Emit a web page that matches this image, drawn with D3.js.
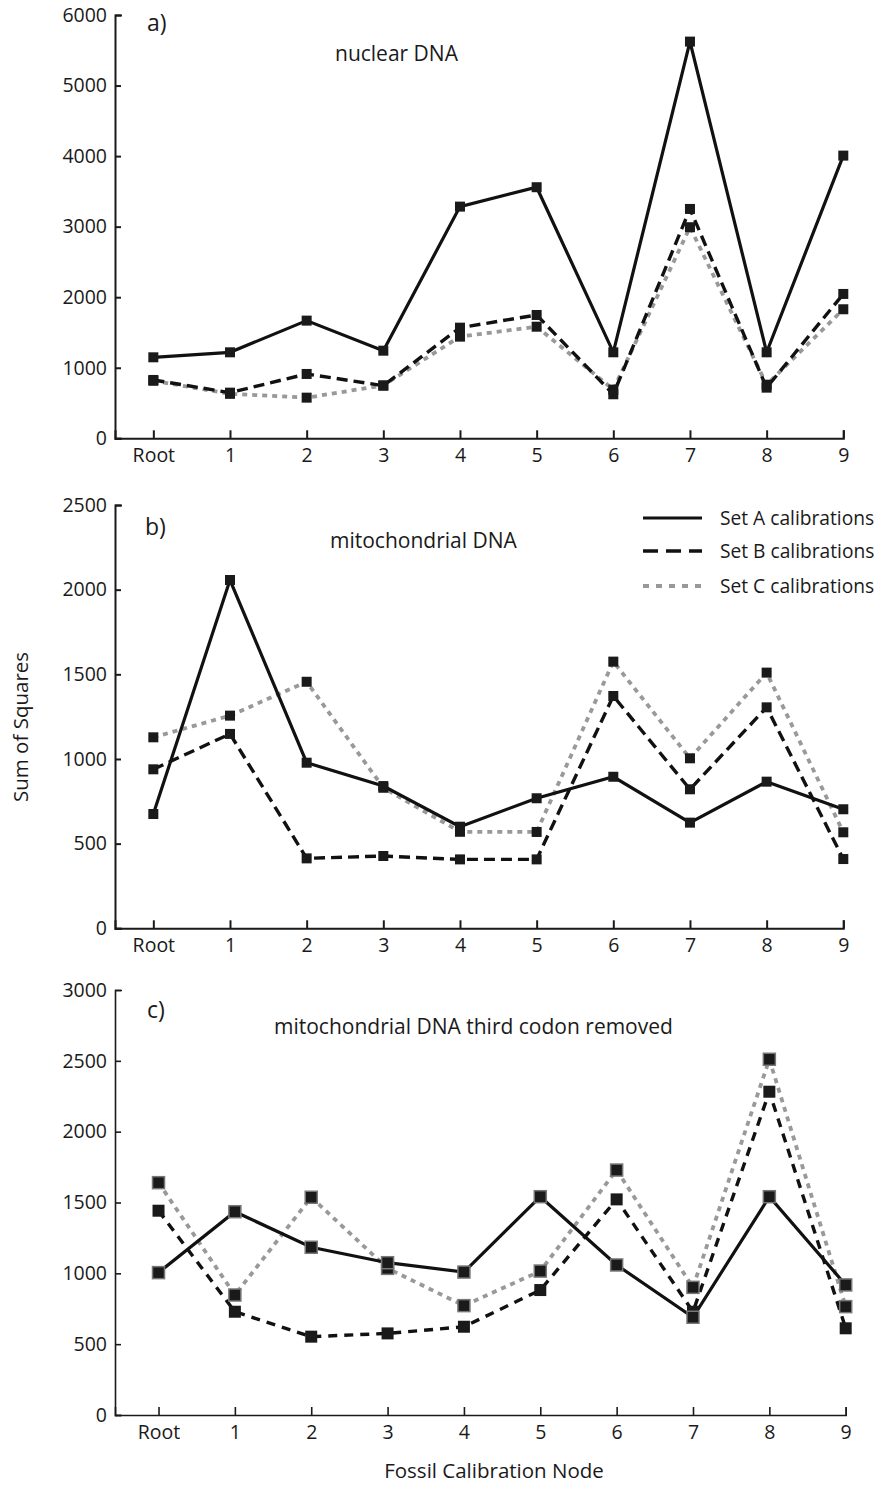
<!DOCTYPE html>
<html>
<head>
<meta charset="utf-8">
<script src="https://cdn.jsdelivr.net/npm/d3@7"></script>
<style>
  body { margin: 0; background: #fff; }
  svg text { font-family: "Open Sans", "DejaVu Sans", sans-serif; fill: #1a1a1a; }
</style>
</head>
<body>
<div id="chart"></div>
<script>
// categories
var nodes = ["Root", "1", "2", "3", "4", "5", "6", "7", "8", "9"];

// a) nuclear DNA
var nuclearA = [1148, 1219, 1668, 1242, 3284, 3559, 1219, 5623, 1219, 4007];
var nuclearB = [827, 647, 912, 746, 1568, 1748, 624, 3251, 718, 2046];
var nuclearC = [815, 630, 576, 750, 1441, 1582, 690, 2992, 760, 1829];

// b) mitochondrial DNA
var mitoA = [675, 2057, 978, 840, 600, 768, 895, 624, 866, 703];
var mitoB = [939, 1148, 413, 427, 407, 407, 1372, 821, 1305, 409];
var mitoC = [1128, 1256, 1456, 830, 570, 569, 1575, 1004, 1510, 567];

// c) mitochondrial DNA third codon removed
var codonA = [1005, 1435, 1184, 1075, 1009, 1541, 1059, 690, 1541, 918];
var codonB = [1442, 729, 553, 576, 623, 882, 1522, 729, 2282, 612];
var codonC = [1640, 847, 1537, 1035, 772, 1016, 1729, 901, 2511, 765];

var yTicksA = [0, 1000, 2000, 3000, 4000, 5000, 6000];
var yTicksB = [0, 500, 1000, 1500, 2000, 2500];
var yTicksC = [0, 500, 1000, 1500, 2000, 2500, 3000];

var seriesNames = ["Set A calibrations", "Set B calibrations", "Set C calibrations"];
var panelLetters = ["a)", "b)", "c)"];
var panelTitles = ["nuclear DNA", "mitochondrial DNA", "mitochondrial DNA third codon removed"];


var width = 875, height = 1498;

var svg = d3.select("#chart").append("svg")
            .attr("width", width)
            .attr("height", height);

// line styles for the three sets
var styles = [
    { color: "#111", width: 3.2, dash: null },
    { color: "#111", width: 3.4, dash: "11,6" },
    { color: "#999", width: 3.8, dash: "5,5" }
];

var panels = [
    { series: [nuclearA, nuclearB, nuclearC], ticks: yTicksA, max: 6000,
      top: 15, bottom: 438.3, xStart: -0.5, xRight: 843.3, marker: 10,
      letterX: 147, letterY: 31, titleX: 335, titleY: 61, axisW: 2 },
    { series: [mitoA, mitoB, mitoC], ticks: yTicksB, max: 2500,
      top: 505, bottom: 928.3, xStart: -0.5, xRight: 843.3, marker: 10,
      letterX: 145, letterY: 535, titleX: 330, titleY: 548, axisW: 2 },
    { series: [codonA, codonB, codonC], ticks: yTicksC, max: 3000,
      top: 990, bottom: 1415, xStart: -0.57, xRight: 845.7, marker: 12,
      letterX: 147, letterY: 1018, titleX: 274, titleY: 1034, axisW: 1.6,
      dashB: "9,7", edge: true }
];

var left = 115;

panels.forEach(function(p, pi) {

    var x = d3.scaleLinear()
              .domain([p.xStart, nodes.length - 1])
              .range([left, p.xRight]);

    var y = d3.scaleLinear()
              .domain([0, p.max])
              .range([p.bottom, p.top]);

    var g = svg.append("g").attr("class", "panel" + pi);

    /* axes */
    var xAxis = d3.axisBottom(x)
                  .tickValues(d3.range(nodes.length))
                  .tickFormat(function(d) { return nodes[d]; })
                  .tickSizeInner(-8)
                  .tickSizeOuter(-8)
                  .tickPadding(7);

    var yAxis = d3.axisLeft(y)
                  .tickValues(p.ticks)
                  .tickFormat(d3.format("d"))
                  .tickSizeInner(-6)
                  .tickSizeOuter(-7)
                  .tickPadding(8);

    var gx = g.append("g")
              .attr("transform", "translate(0," + p.bottom + ")")
              .call(xAxis);

    var gy = g.append("g")
              .attr("transform", "translate(" + left + ",0)")
              .call(yAxis);

    [gx, gy].forEach(function(a) {
        a.selectAll("path, line").attr("stroke", "#1a1a1a").attr("stroke-width", p.axisW);
        a.selectAll("text").attr("font-size", 19.5).attr("fill", "#1a1a1a")
         .style("font-family", "'Open Sans', sans-serif");
    });
    gx.selectAll("text").attr("dy", "0.85em");

    /* lines, set C at the back */
    var line = d3.line()
                 .x(function(d, i) { return x(i); })
                 .y(function(d) { return y(d); });

    [2, 1, 0].forEach(function(si) {
        var st = styles[si];
        var dash = (si === 1 && p.dashB) ? p.dashB : st.dash;
        g.append("path")
         .datum(p.series[si])
         .attr("fill", "none")
         .attr("stroke", st.color)
         .attr("stroke-width", st.width)
         .attr("stroke-dasharray", dash)
         .attr("stroke-linejoin", "miter")
         .attr("d", line);
    });

    /* square markers */
    [2, 1, 0].forEach(function(si) {
        var s = p.marker;
        g.append("g").selectAll("rect")
         .data(p.series[si])
         .enter()
         .append("rect")
         .attr("x", function(d, i) { return x(i) - s / 2; })
         .attr("y", function(d) { return y(d) - s / 2; })
         .attr("width", s)
         .attr("height", s)
         .attr("fill", "#1a1a1a")
         .attr("stroke", (p.edge && si !== 1) ? "#777" : "none")
         .attr("stroke-width", 1.5);
    });

    /* panel letter and title */
    g.append("text")
     .attr("x", p.letterX)
     .attr("y", p.letterY)
     .attr("font-size", 23)
     .text(panelLetters[pi]);

    g.append("text")
     .attr("x", p.titleX)
     .attr("y", p.titleY)
     .attr("font-size", 21)
     .text(panelTitles[pi]);
});


/* legend, inside panel b */
var legend = svg.append("g").attr("class", "legend");
var legendDash = [null, "15,8", "6,7"];
var legendY = [518, 551, 586];

seriesNames.forEach(function(name, i) {
    legend.append("line")
          .attr("x1", 643).attr("x2", 702)
          .attr("y1", legendY[i]).attr("y2", legendY[i])
          .attr("stroke", styles[i].color)
          .attr("stroke-width", styles[i].width)
          .attr("stroke-dasharray", legendDash[i]);

    legend.append("text")
          .attr("x", 720)
          .attr("y", legendY[i] + 7)
          .attr("font-size", 19.2)
          .text(name);
});


/* shared axis titles */
svg.append("text")
   .attr("transform", "translate(28,727) rotate(-90)")
   .attr("text-anchor", "middle")
   .attr("font-size", 20.5)
   .text("Sum of Squares");

svg.append("text")
   .attr("x", 494)
   .attr("y", 1478)
   .attr("text-anchor", "middle")
   .attr("font-size", 20.5)
   .text("Fossil Calibration Node");
</script>
</body>
</html>
